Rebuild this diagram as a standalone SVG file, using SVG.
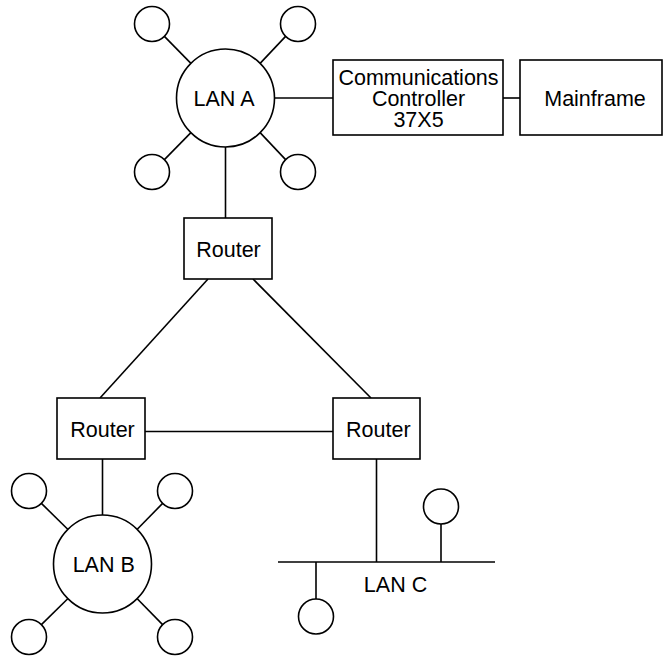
<svg xmlns="http://www.w3.org/2000/svg" width="664" height="656" viewBox="0 0 664 656">
<style>
.s{fill:#fff;stroke:#000;stroke-width:1.6}
.l{fill:none;stroke:#000;stroke-width:1.6}
text{font-family:"Liberation Sans",Arial,sans-serif;font-size:21.5px;fill:#000;text-anchor:middle}
</style>
<rect width="664" height="656" fill="#fff"/>
<g id="connectors" class="l">
<line x1="164.4" y1="36.4" x2="190.9" y2="63.4"/>
<line x1="285.6" y1="36.4" x2="260.1" y2="63.4"/>
<line x1="164.4" y1="159.6" x2="190.9" y2="132.6"/>
<line x1="285.6" y1="159.6" x2="260.1" y2="132.6"/>
<line x1="275" y1="98" x2="333" y2="98"/>
<line x1="503" y1="98" x2="520" y2="98"/>
<line x1="225.5" y1="147" x2="225.5" y2="218"/>
<line x1="208" y1="279" x2="100" y2="398"/>
<line x1="253" y1="279" x2="371" y2="398"/>
<line x1="145" y1="431.5" x2="333" y2="431.5"/>
<line x1="102.5" y1="459" x2="102.5" y2="515"/>
<line x1="41.4" y1="503.4" x2="68" y2="529.5"/>
<line x1="162.6" y1="503.4" x2="137" y2="529.5"/>
<line x1="41.4" y1="624.6" x2="68" y2="598.5"/>
<line x1="162.6" y1="624.6" x2="137" y2="598.5"/>
<line x1="376.5" y1="459" x2="376.5" y2="562"/>
<line x1="278" y1="562" x2="495" y2="562"/>
<line x1="441" y1="524" x2="441" y2="562"/>
<line x1="316" y1="562" x2="316" y2="599"/>
</g>
<g id="lanA">
<circle class="s" cx="225.5" cy="98" r="49"/>
<text x="224" y="105.5">LAN A</text>
</g>
<g id="lanA-hosts">
<circle class="s" cx="152" cy="24" r="17.5"/>
<circle class="s" cx="298" cy="24" r="17.5"/>
<circle class="s" cx="152" cy="172" r="17.5"/>
<circle class="s" cx="298" cy="172" r="17.5"/>
</g>
<g id="controller">
<rect class="s" x="333" y="60" width="170" height="75"/>
<text x="418.5" y="85">Communications</text>
<text x="418.5" y="106">Controller</text>
<text x="418.5" y="126.5">37X5</text>
</g>
<g id="mainframe">
<rect class="s" x="520" y="60" width="142" height="75"/>
<text x="595" y="105.5">Mainframe</text>
</g>
<g id="routerTop">
<rect class="s" x="184" y="218" width="88" height="61"/>
<text x="228.5" y="257">Router</text>
</g>
<g id="routerLeft">
<rect class="s" x="57" y="398" width="88" height="61"/>
<text x="102.5" y="436.5">Router</text>
</g>
<g id="routerRight">
<rect class="s" x="333" y="398" width="87" height="61"/>
<text x="378.3" y="436.5">Router</text>
</g>
<g id="lanB">
<circle class="s" cx="102.5" cy="564" r="49"/>
<text x="103.7" y="572">LAN B</text>
</g>
<g id="lanB-hosts">
<circle class="s" cx="29" cy="491" r="17.5"/>
<circle class="s" cx="175" cy="491" r="17.5"/>
<circle class="s" cx="29" cy="637" r="17.5"/>
<circle class="s" cx="175" cy="637" r="17.5"/>
</g>
<g id="lanC">
<text x="395.5" y="591.5">LAN C</text>
<circle class="s" cx="441" cy="506.5" r="17.5"/>
<circle class="s" cx="316" cy="616.5" r="17.5"/>
</g>
</svg>
